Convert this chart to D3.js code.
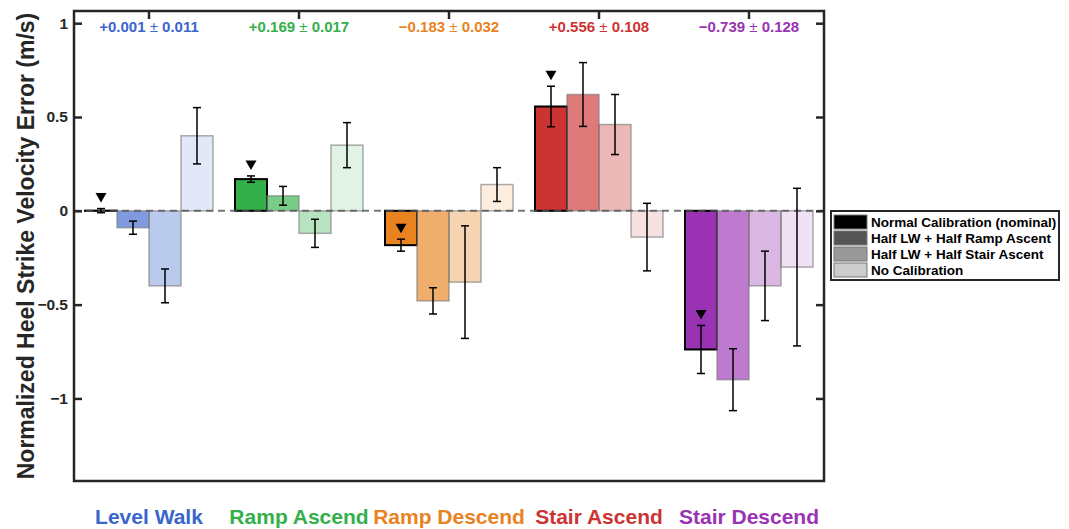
<!DOCTYPE html>
<html>
<head>
<meta charset="utf-8">
<script src="https://cdnjs.cloudflare.com/ajax/libs/d3/7.8.5/d3.min.js"></script>
<style>
  body { margin: 0; background: #fff; }
  svg { font-family: "Liberation Sans", Arial, sans-serif; font-weight: bold; }
</style>
</head>
<body>
<svg id="chart"></svg>
<script>
var categories = ['Level Walk', 'Ramp Ascend', 'Ramp Descend', 'Stair Ascend', 'Stair Descend'];
var calibrations = ['Normal Calibration (nominal)', 'Half LW + Half Ramp Ascent', 'Half LW + Half Stair Ascent', 'No Calibration'];

// mean and std of each calibration, per task
var nominal     = [0.001, 0.169, -0.183, 0.556, -0.739];
var nominalErr  = [0.011, 0.017, 0.032, 0.108, 0.128];
var rampCal     = [-0.09, 0.08, -0.48, 0.62, -0.90];
var rampCalErr  = [0.035, 0.05, 0.07, 0.17, 0.165];
var stairCal    = [-0.40, -0.12, -0.38, 0.46, -0.40];
var stairCalErr = [0.09, 0.075, 0.30, 0.16, 0.185];
var noCal       = [0.40, 0.35, 0.14, -0.14, -0.30];
var noCalErr    = [0.15, 0.12, 0.09, 0.18, 0.42];

var yTicks = [-1, -0.5, 0, 0.5, 1];
var yTickLabels = ['\u22121', '\u22120.5', '0', '0.5', '1'];

var colors = ['#3a66cc', '#33b04a', '#e8831f', '#cc3333', '#9933b3'];
var alphas = [1, 0.65, 0.35, 0.15];
var legendColors = ['#000000', '#555555', '#999999', '#cccccc'];

var width = 1069, height = 529,
    plotL = 74, plotR = 824, plotT = 11, plotB = 481;

var svg = d3.select('#chart').attr('width', width).attr('height', height);

var x = d3.scaleBand().domain(categories).range([plotL, plotR]).padding(0);
var xs = d3.scaleBand().domain([0, 1, 2, 3]).range([11, 139]).padding(0);
var y = d3.scaleLinear().domain([-1.44, 1.065]).range([plotB, plotT]);

var means = [nominal, rampCal, stairCal, noCal],
    errs = [nominalErr, rampCalErr, stairCalErr, noCalErr];

var bars = [];
categories.forEach(function(c, i){
  means.forEach(function(m, j){
    bars.push({cat: c, ci: i, s: j, v: m[i], e: errs[j][i]});
  });
});

function barX(d){ return x(d.cat) + xs(d.s); }
function barMid(d){ return x(d.cat) + xs(d.s) + xs.bandwidth() / 2; }

// bars
svg.append('g').selectAll('rect')
  .data(bars)
  .enter()
    .append('rect')
    .attr('x', barX)
    .attr('width', xs.bandwidth())
    .attr('y', function(d){ return y(Math.max(0, d.v)); })
    .attr('height', function(d){ return Math.abs(y(d.v) - y(0)); })
    .attr('fill', function(d){ return colors[d.ci]; })
    .attr('fill-opacity', function(d){ return alphas[d.s]; })
    .attr('stroke', function(d){ return d.s === 0 ? '#000' : '#777'; })
    .attr('stroke-opacity', function(d){ return d.s === 0 ? 1 : 0.6; })
    .attr('stroke-width', function(d){ return d.s === 0 ? 2 : 1.5; });

// zero line
svg.append('line')
  .attr('x1', plotL).attr('x2', plotR)
  .attr('y1', y(0)).attr('y2', y(0))
  .attr('stroke', '#555').attr('stroke-opacity', 0.8)
  .attr('stroke-width', 2).attr('stroke-dasharray', '7,5');

// error bars
var eb = svg.append('g').selectAll('g')
  .data(bars)
  .enter()
    .append('g')
    .attr('stroke', '#000').attr('stroke-width', 1.5);

eb.append('line')
  .attr('x1', barMid).attr('x2', barMid)
  .attr('y1', function(d){ return y(d.v + d.e); })
  .attr('y2', function(d){ return y(d.v - d.e); });
eb.append('line')
  .attr('x1', function(d){ return barMid(d) - 4; })
  .attr('x2', function(d){ return barMid(d) + 4; })
  .attr('y1', function(d){ return y(d.v + d.e); })
  .attr('y2', function(d){ return y(d.v + d.e); });
eb.append('line')
  .attr('x1', function(d){ return barMid(d) - 4; })
  .attr('x2', function(d){ return barMid(d) + 4; })
  .attr('y1', function(d){ return y(d.v - d.e); })
  .attr('y2', function(d){ return y(d.v - d.e); });

// nominal markers
svg.append('g').selectAll('path')
  .data(bars.filter(function(d){ return d.s === 0; }))
  .enter()
    .append('path')
    .attr('d', 'M-5.5,-4.5L5.5,-4.5L0,5Z')
    .attr('fill', '#000')
    .attr('transform', function(d){
      return 'translate(' + barMid(d) + ',' + (y(d.v + d.e) - 11) + ')';
    });

// axes box
var axisColor = '#262626';
svg.append('rect')
  .attr('x', plotL).attr('y', plotT)
  .attr('width', plotR - plotL).attr('height', plotB - plotT)
  .attr('fill', 'none').attr('stroke', axisColor).attr('stroke-width', 2.5);

var yl = d3.axisLeft(y).tickValues(yTicks).tickSize(-8).tickPadding(6)
  .tickFormat(function(d, i){ return yTickLabels[i]; });
var gy = svg.append('g').attr('transform', 'translate(' + plotL + ',0)').call(yl);
gy.select('.domain').remove();
gy.selectAll('line').attr('stroke', axisColor).attr('stroke-width', 2.5);
gy.selectAll('text').attr('fill', '#262626').style('font-size', '15.5px')
  .style('font-family', '"Liberation Sans", Arial, sans-serif').style('font-weight', 'bold');

var yr = d3.axisRight(y).tickValues(yTicks).tickSize(-8).tickFormat('');
var gyr = svg.append('g').attr('transform', 'translate(' + plotR + ',0)').call(yr);
gyr.select('.domain').remove();
gyr.selectAll('line').attr('stroke', axisColor).attr('stroke-width', 2.5);

var xt = d3.axisTop(x).tickSize(-8).tickFormat('');
var gxt = svg.append('g').attr('transform', 'translate(0,' + plotT + ')').call(xt);
gxt.select('.domain').remove();
gxt.selectAll('line').attr('stroke', axisColor).attr('stroke-width', 2.5);

// y label
svg.append('text')
  .attr('transform', 'translate(34,' + ((plotT + plotB) / 2) + ') rotate(-90)')
  .attr('text-anchor', 'middle')
  .attr('fill', '#262626')
  .style('font-size', '23px')
  .text('Normalized Heel Strike Velocity Error (m/s)');

// category labels
svg.append('g').selectAll('text')
  .data(categories)
  .enter()
    .append('text')
    .attr('x', function(d){ return x(d) + x.bandwidth() / 2; })
    .attr('y', 524)
    .attr('text-anchor', 'middle')
    .attr('fill', function(d, i){ return colors[i]; })
    .style('font-size', '21px')
    .text(function(d){ return d; });

// mean +- std annotations
function signed(v){ return (v < 0 ? '\u2212' : '+') + Math.abs(v).toFixed(3); }
var ann = svg.append('g').selectAll('text')
  .data(categories)
  .enter()
    .append('text')
    .attr('x', function(d){ return x(d) + x.bandwidth() / 2; })
    .attr('y', 32)
    .attr('text-anchor', 'middle')
    .attr('fill', function(d, i){ return colors[i]; })
    .style('font-size', '15px');
ann.append('tspan').text(function(d, i){ return signed(nominal[i]) + ' '; });
ann.append('tspan').style('font-weight', 'normal').text('\u00b1');
ann.append('tspan').text(function(d, i){ return ' ' + nominalErr[i].toFixed(3); });

// legend
var lg = svg.append('g').attr('transform', 'translate(831,211)');
lg.append('rect')
  .attr('width', 228).attr('height', 69)
  .attr('fill', '#fff').attr('stroke', '#262626').attr('stroke-width', 2);
var items = lg.selectAll('g.item')
  .data(calibrations)
  .enter()
    .append('g')
    .attr('class', 'item')
    .attr('transform', function(d, i){ return 'translate(3,' + (11 + i * 16) + ')'; });
items.append('rect')
  .attr('x', 0).attr('y', -7).attr('width', 33).attr('height', 14)
  .attr('fill', function(d, i){ return legendColors[i]; })
  .attr('stroke', '#777').attr('stroke-width', 1);
items.append('text')
  .attr('x', 37).attr('y', 5)
  .attr('fill', '#000')
  .style('font-size', '13.5px')
  .text(function(d){ return d; });
</script>
</body>
</html>
